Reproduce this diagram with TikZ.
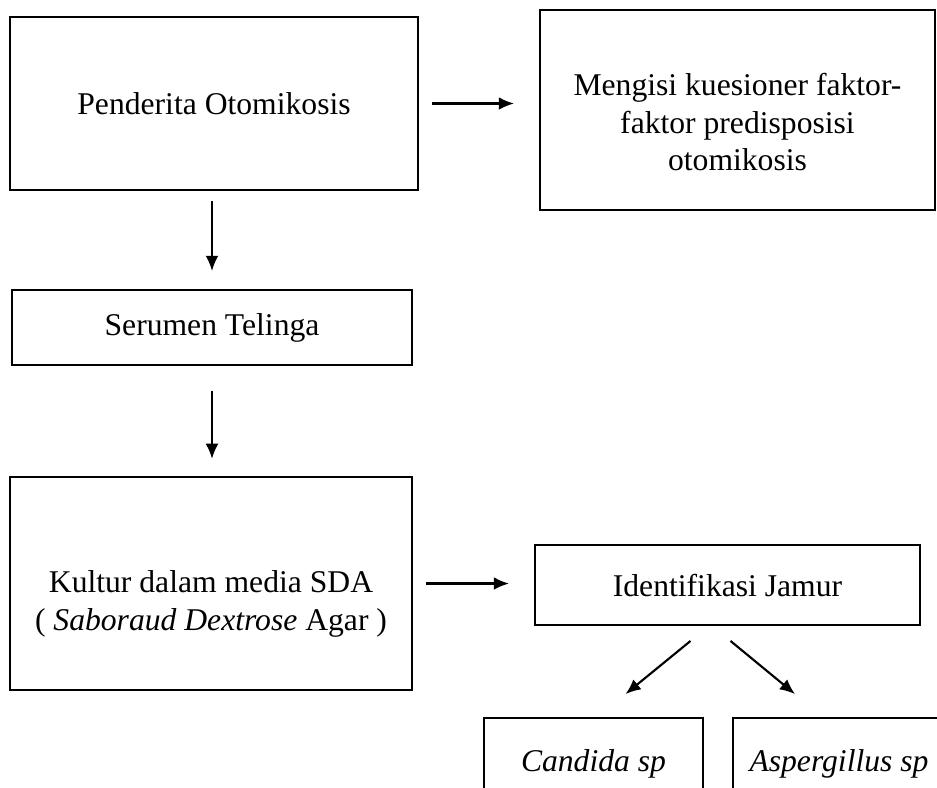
\documentclass[tikz,border=0pt]{standalone}
\usepackage{fontspec}
\setmainfont{Liberation Serif}
\usetikzlibrary{positioning,calc,arrows.meta}

\begin{document}
\begin{tikzpicture}[x=0.015cm,y=-0.015cm,
    box/.style={draw,line width=0.8pt,align=center,inner sep=0pt,
        font=\fontsize{13.5}{16}\selectfont},
    arr/.style={-{Latex[length=6.5pt,width=5.5pt]},line width=0.9pt}]
    % Basic unit (one pixel of the scan)
    \def\u{0.015cm}

    % Page frame
    \useasboundingbox (0,0) rectangle (937,787);
    \clip (0,0) rectangle (937,787);

    % Boxes of the flow
    \node[box,minimum width=408*\u,minimum height=173*\u] (pend) at (214,103.5) {Penderita Otomikosis};
    \node[box,minimum width=395*\u,minimum height=200*\u] (kues) at (737.5,110)
        {\mbox{}\\[4pt]Mengisi kuesioner faktor-\\faktor predisposisi\\otomikosis};
    \node[box,minimum width=400*\u,minimum height=75*\u] (ser) at (212,327.5) {Serumen Telinga};
    \node[box,minimum width=402*\u,minimum height=213*\u] (kult) at (211,583.5)
        {\mbox{}\\[11pt]Kultur dalam media SDA\\( \textit{Saboraud Dextrose} Agar )};
    \node[box,minimum width=385*\u,minimum height=80*\u] (iden) at (727.5,585) {Identifikasi Jamur};
    \node[box,minimum width=219*\u,minimum height=92*\u,font=\fontsize{13.5}{16}\selectfont\itshape] (cand) at (593.5,764) {Candida sp};
    \node[box,minimum width=212*\u,minimum height=92*\u,font=\fontsize{13.5}{16}\selectfont\itshape] (asp) at (839,764) {Aspergillus sp};

    % Arrows
    \draw[arr,shorten <=5.5pt,shorten >=10.7pt] (pend.east) -- (kues.west |- pend);
    \draw[arr,shorten <=4.3pt,shorten >=7.7pt] (pend.south -| ser) -- (ser.north);
    \draw[arr,shorten <=10.7pt,shorten >=7.3pt] (ser.south) -- (kult.north -| ser.south);
    \draw[arr,shorten <=5.5pt,shorten >=10.7pt] (kult.east) -- (iden.west |- kult.east);
    \draw[arr] ($(iden.south)+(-37,15)$) -- ($(cand.north)+(32,-23)$);
    \draw[arr] ($(iden.south)+(3,15)$) -- ($(asp.north)+(-44,-23)$);
\end{tikzpicture}
\end{document}
